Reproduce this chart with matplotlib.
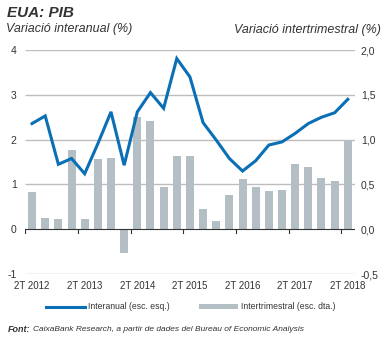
import matplotlib
matplotlib.use("Agg")
from matplotlib import pyplot as plt
from matplotlib.lines import Line2D
from matplotlib.patches import Patch

quarters = ["2T 2012", "3T 2012", "4T 2012", "1T 2013", "2T 2013", "3T 2013", "4T 2013",
            "1T 2014", "2T 2014", "3T 2014", "4T 2014", "1T 2015", "2T 2015", "3T 2015",
            "4T 2015", "1T 2016", "2T 2016", "3T 2016", "4T 2016", "1T 2017", "2T 2017",
            "3T 2017", "4T 2017", "1T 2018", "2T 2018"]
interanual = [2.36, 2.53, 1.45, 1.58, 1.24, 1.91, 2.62, 1.43, 2.62, 3.05, 2.70, 3.81, 3.40,
              2.38, 1.99, 1.58, 1.30, 1.53, 1.88, 1.95, 2.14, 2.36, 2.50, 2.60, 2.90]
intertrimestral = [0.42, 0.13, 0.11, 0.88, 0.12, 0.78, 0.80, -0.26, 1.25, 1.21, 0.47, 0.82,
                   0.82, 0.23, 0.09, 0.38, 0.56, 0.47, 0.43, 0.44, 0.73, 0.70, 0.57, 0.54, 1.00]
left_ticks = [-1, 0, 1, 2, 3, 4]
right_ticks = [-0.5, 0.0, 0.5, 1.0, 1.5, 2.0]
right_labels = ["-0,5", "0,0", "0,5", "1,0", "1,5", "2,0"]

plt.rcParams["font.family"] = ["Liberation Sans", "DejaVu Sans"]

blue = "#0a6fb5"
grey = "#b3bec5"
txt = "#333333"

fig = plt.figure(figsize=(3.92, 3.38), dpi=100)
ax = fig.add_axes([0.064, 0.189, 0.842, 0.663])
ax2 = ax.twinx()
ax2.patch.set_visible(False)

ax.set_xlim(-0.53, 24.56)
ax.set_ylim(-1, 4)
ax2.set_ylim(-0.5, 2.0)

x = list(range(len(quarters)))
# everything drawn in the twin so zorder works; line uses the left scale
ax2.hlines([v for v in right_ticks if v != 0], -0.53, 24.56, colors="#bdbdbd",
           lw=1.0, zorder=1)
ax2.bar(x, intertrimestral, width=0.61, color=grey, zorder=2)
ax2.plot(x, interanual, color=blue, lw=2.2, solid_joinstyle="miter", zorder=3,
         transform=ax.transData)
ax2.axhline(0, color="#333333", lw=0.8, zorder=4)
ax2.set_xlim(-0.53, 24.56)

ax.set_yticks(left_ticks)
ax.set_yticklabels([str(v) for v in left_ticks])
ax2.set_yticks(right_ticks)
ax2.set_yticklabels(right_labels)
ax.tick_params(axis="y", length=0, labelsize=7.5, colors=txt, pad=6)
ax2.tick_params(axis="y", length=0, labelsize=7.5, colors=txt, pad=4)

xt = list(range(0, len(quarters), 4))
ax.set_xticks(xt)
ax.set_xticklabels([quarters[i] for i in xt])
ax.tick_params(axis="x", length=0, labelsize=7, colors=txt, pad=5)
for i in xt:
    ax2.plot([i - 0.5, i - 0.5], [0, -0.04], color="#333333", lw=0.8, zorder=4)

for a in (ax, ax2):
    for s in a.spines.values():
        s.set_visible(False)

fig.text(0.017, 0.963, "EUA: PIB", fontsize=11, fontweight="bold", style="italic",
         color=txt, va="center")
fig.text(0.016, 0.915, "Variació interanual (%)", fontsize=9, style="italic",
         color=txt, va="center")
fig.text(0.972, 0.91, "Variació intertrimestral (%)", fontsize=9, style="italic",
         color=txt, va="center", ha="right")

handles = [Line2D([], [], color=blue, lw=2.2),
           Patch(facecolor=grey, edgecolor="none")]
fig.legend(handles, ["Interanual (esc. esq.)", "Intertrimestral (esc. dta.)"],
           loc="center", bbox_to_anchor=(0.487, 0.092), ncol=2, frameon=False,
           fontsize=6.2, handlelength=4.5, handleheight=0.6, columnspacing=3.4,
           handletextpad=0.4, labelcolor=txt)

fig.text(0.02, 0.026, "Font:", fontsize=6.5, fontweight="bold", style="italic",
         color=txt, va="center")
fig.text(0.085, 0.026, "CaixaBank Research, a partir de dades del Bureau of Economic Analysis",
         fontsize=6, style="italic", color=txt, va="center")

fig.savefig("out.png", dpi=100)
